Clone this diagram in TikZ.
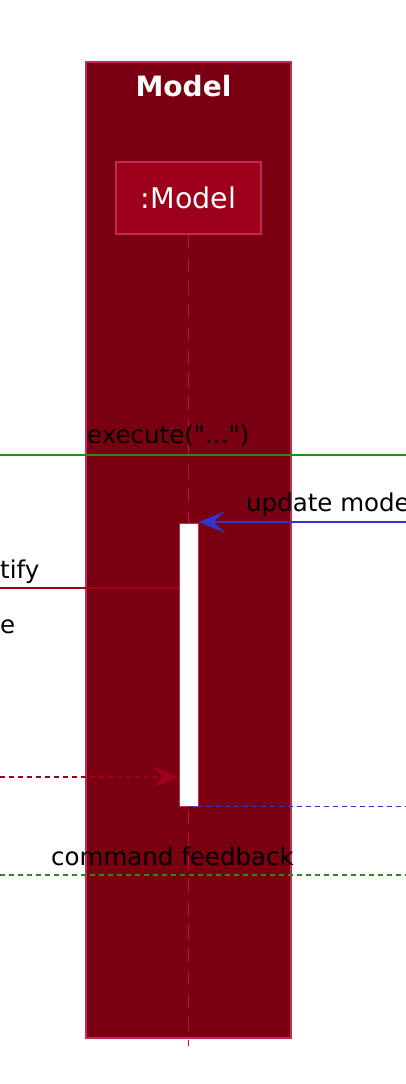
\documentclass[tikz,border=0pt]{standalone}
\usepackage{fontspec}
\setmainfont{DejaVu Sans}
\usepackage{tikz}
\usetikzlibrary{positioning,arrows.meta}

\definecolor{boxred}{RGB}{122,0,17}
\definecolor{partred}{RGB}{156,0,26}
\definecolor{edgered}{RGB}{196,40,88}
\definecolor{lifered}{RGB}{190,16,74}
\definecolor{msgred}{RGB}{160,0,26}
\definecolor{msgblue}{RGB}{52,52,200}
\definecolor{msggreen}{RGB}{40,140,20}

\tikzset{
  groupbox/.style={draw=edgered, line width=1.5pt, fill=boxred, minimum width=205pt, minimum height=976pt, inner sep=0pt},
  partbox/.style={draw=edgered, line width=1.5pt, fill=partred, text=white, minimum width=145pt, minimum height=72pt, inner sep=0pt, font=\fontsize{28.5}{32}\selectfont},
  actbox/.style={draw=edgered, line width=1pt, fill=white, minimum width=19pt, minimum height=283pt, inner sep=0pt},
  lifeline/.style={draw=lifered, line width=1.8pt, dash pattern=on 14pt off 9pt},
  msglabel/.style={anchor=base west, inner sep=0pt, font=\fontsize{24.5}{28}\selectfont},
  msg/.style={line width=1.9pt},
  dotted msg/.style={line width=1.9pt, dash pattern=on 5pt off 4pt},
  tip/.style={-{Stealth[length=27pt, width=22pt, inset=12pt]}}
}

\begin{document}
\begin{tikzpicture}[x=1pt, y=-1pt]
    \useasboundingbox (0,0) rectangle (406,1084);

    \node [groupbox] (box) at (188.5,550) {};
    \node [text=white, font=\bfseries\fontsize{28}{32}\selectfont] (title) at (183.5,86) {Model};
    \node [partbox] (model) at (188.5,198) {:Model};
    \coordinate (lifeend) at (188.5,1046);
    \draw [lifeline] (model.south) -- (lifeend);

    \node [actbox] (act) at (188.5,664.5) {};

    % execute
    \coordinate (exl) at (0,455);
    \coordinate (exr) at (406,455);
    \draw [msg, msggreen] (exl) -- (exr);
    \node [msglabel] (lexec) at (87,443) {execute(\textquotedbl...\textquotedbl)};

    % update model
    \coordinate (upr) at (406,522);
    \draw [msg, tip, msgblue] (upr) -- (act.east |- upr);
    \node [msglabel] (lupdate) at (246,511) {update mode};

    % notify
    \coordinate (nol) at (0,588);
    \draw [msg, msgred] (nol) -- (act.west |- nol);
    \node [msglabel] (lnotify) at (0,578) {tify};
    \node [msglabel] (lother) at (0,633) {e};

    % returns
    \coordinate (rnl) at (0,777);
    \draw [dotted msg, tip, msgred] (rnl) -- (act.west |- rnl);
    \coordinate (rbr) at (406,807);
    \draw [dotted msg, msgblue] (act.south) -- (act.south -| rbr);

    % command feedback
    \coordinate (cfl) at (0,875);
    \coordinate (cfr) at (406,875);
    \draw [dotted msg, msggreen] (cfl) -- (cfr);
    \node [msglabel] (lfeedback) at (51,865) {command feedback};
  \end{tikzpicture}
\end{document}
